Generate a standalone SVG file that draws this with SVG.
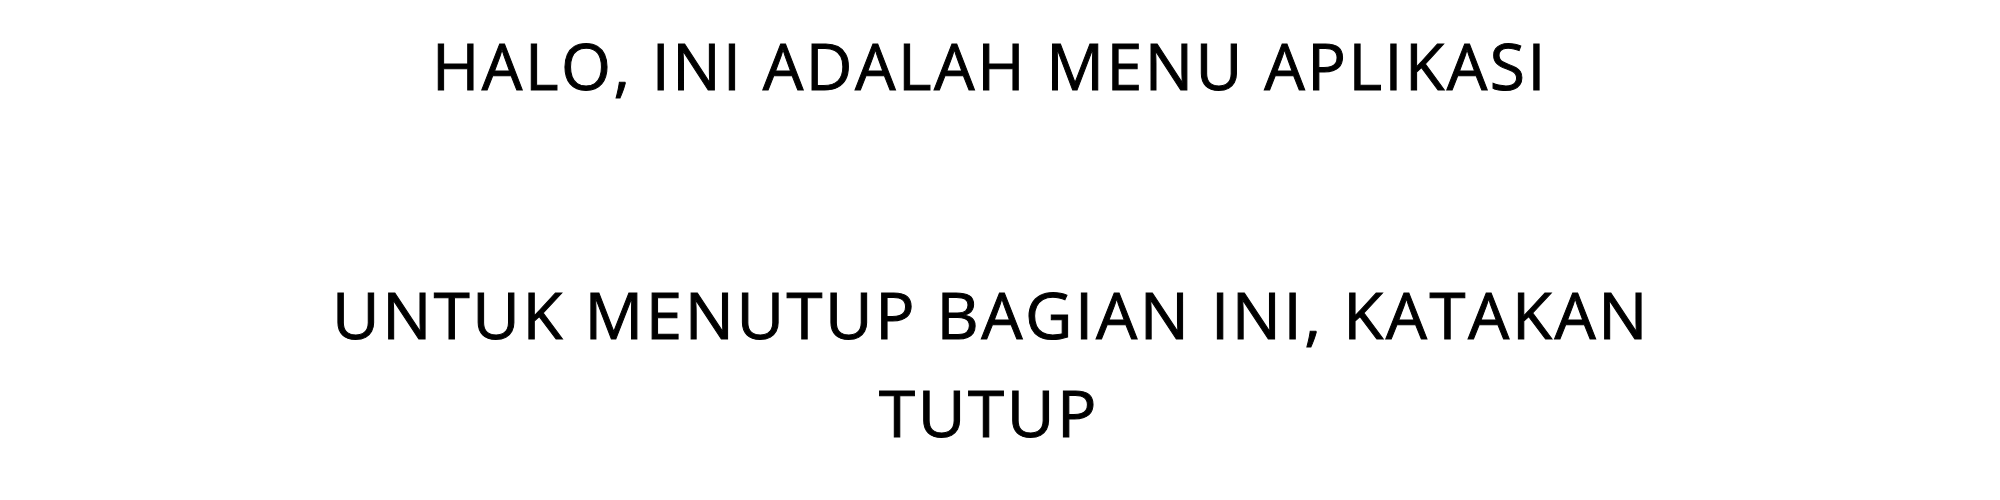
<svg xmlns="http://www.w3.org/2000/svg" width="2000" height="500" viewBox="0 0 2000 500">
<style>
.t{font-family:"Open Sans","Noto Sans","Liberation Sans",sans-serif;font-size:64px;fill:#000;stroke:#000;stroke-width:1px;letter-spacing:2.5px;text-anchor:middle}
</style>
<rect width="2000" height="500" fill="#fff"/>
<g id="title">
<text class="t" x="990" y="90" textLength="1116" lengthAdjust="spacingAndGlyphs">HALO, INI ADALAH MENU APLIKASI</text>
</g>
<g id="instruction">
<text class="t" x="991" y="339" textLength="1318" lengthAdjust="spacingAndGlyphs">UNTUK MENUTUP BAGIAN INI, KATAKAN</text>
<text class="t" x="989" y="437" textLength="220" lengthAdjust="spacingAndGlyphs">TUTUP</text>
</g>
</svg>
